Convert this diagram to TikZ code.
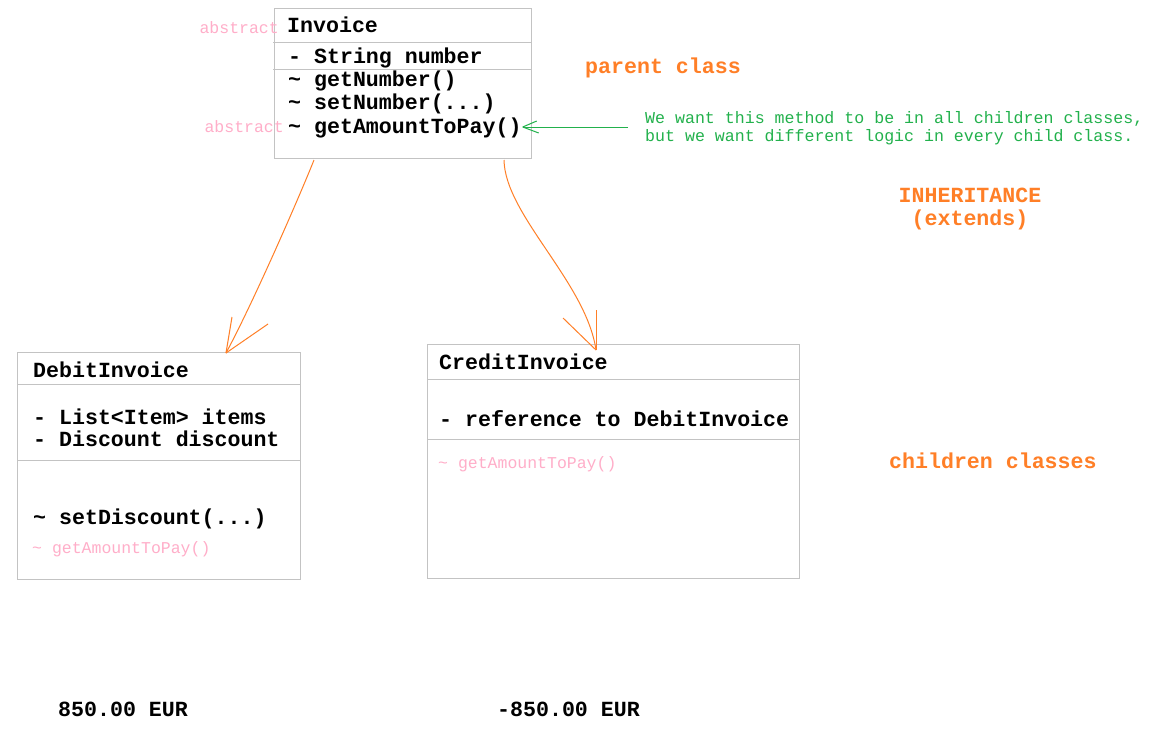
\documentclass[tikz,border=0pt]{standalone}
\usepackage{fontspec}
\setmonofont{Liberation Mono}
\usetikzlibrary{calc}
\definecolor{boxgray}{HTML}{C3C3C3}
\definecolor{paintorange}{HTML}{FF7F27}
\definecolor{paintgreen}{HTML}{22B14C}
\definecolor{paintpink}{HTML}{FFAEC9}
\tikzset{
  umlbox/.style={draw=boxgray, line width=1pt, inner sep=0, anchor=north west},
  sepline/.style={draw=boxgray, line width=1pt},
  big/.style={inner sep=0, anchor=base west, font=\ttfamily\bfseries\fontsize{21.6}{24}\selectfont},
  cls/.style={big, text=black},
  pinknote/.style={inner sep=0, anchor=base west, text=paintpink, font=\ttfamily\fontsize{16.5}{19}\selectfont},
  hint/.style={inner sep=0, anchor=base west, text=paintgreen, font=\ttfamily\fontsize{16.6}{18}\selectfont},
  lbl/.style={big, text=paintorange},
  inh/.style={draw=paintorange, line width=1pt},
  grn/.style={draw=paintgreen, line width=1pt},
}
\begin{document}
\begin{tikzpicture}[x=1pt, y=-1pt]
\useasboundingbox[fill=white] (0,0) rectangle (1150,739);

% Invoice box
\node[umlbox, minimum width=257, minimum height=150] (invoice) at (274,8) {};
\draw[sepline] (273,42) -- (531,42);
\draw[sepline] (273,69) -- (531,69);
\node[cls] (invname) at (287,32.5) {Invoice};
\node[cls] (attr) at (288,63) {- String number};
\node[cls] (m1) at (288,86) {\char`~{} getNumber()};
\node[cls] (m2) at (288,109) {\char`~{} setNumber(...)};
\node[cls] (m3) at (288,133) {\char`~{} getAmountToPay()};
\node[pinknote, anchor=base east] (abs1) at (279,33) {abstract};
\node[pinknote, anchor=base east] (abs2) at (284,132) {abstract};

% DebitInvoice box
\node[umlbox, minimum width=283, minimum height=227] (debit) at (17,352) {};
\draw[sepline] (17,384) -- (300,384);
\draw[sepline] (17,460) -- (300,460);
\node[cls] (dname) at (33,377) {DebitInvoice};
\node[cls] (d1) at (33,424) {- List<Item> items};
\node[cls] (d2) at (33,446) {- Discount discount};
\node[cls] (d3) at (33,524) {\char`~{} setDiscount(...)};
\node[pinknote] (d4) at (32,553) {\char`~{} getAmountToPay()};

% CreditInvoice box
\node[umlbox, minimum width=372, minimum height=234] (credit) at (427,344) {};
\draw[sepline] (427,379) -- (799,379);
\draw[sepline] (427,439) -- (799,439);
\node[cls] (cname) at (439,369) {CreditInvoice};
\node[cls] (c1) at (439,426) {- reference to DebitInvoice};
\node[pinknote] (c2) at (438,468) {\char`~{} getAmountToPay()};

% labels
\node[lbl] (parent) at (585,73) {parent class};
\node[lbl, anchor=base] (inhlbl) at (970,202) {INHERITANCE};
\node[lbl, anchor=base] (extlbl) at (970,225) {(extends)};
\node[lbl] (children) at (889,468) {children classes};
\node[cls] (amount1) at (58,716) {850.00 EUR};
\node[cls] (amount2) at (497,716) {-850.00 EUR};
\node[hint] (hint1) at (645,123.5) {We want this method to be in all children classes,};
\node[hint] (hint2) at (645,141.5) {but we want different logic in every child class.};

% inheritance arrows
\coordinate (s1) at ($(invoice.south west)+(40,1)$);
\coordinate (t1) at ($(debit.north west)+(209,1)$);
\draw[inh] (s1) .. controls (298,200) and (252,305) .. (t1);
\draw[inh] (t1) -- ++(6,-36);
\draw[inh] (t1) -- ++(42,-29);

\coordinate (s2) at ($(invoice.south west)+(230,1)$);
\coordinate (t2) at ($(credit.north west)+(169,6)$);
\draw[inh] (s2) .. controls (505,215) and (586,282) .. (t2);
\draw[inh] (t2) -- ++(0,-40);
\draw[inh] (t2) -- ++(-33,-32);

% green note arrow
\coordinate (gend) at (628,127);
\coordinate (gtip) at ($(m3.base east)+(1,-6)$);
\draw[grn] (gend) -- (gtip);
\draw[grn] (gtip) -- ++(14,-6);
\draw[grn] (gtip) -- ++(16,6);
\end{tikzpicture}
\end{document}
